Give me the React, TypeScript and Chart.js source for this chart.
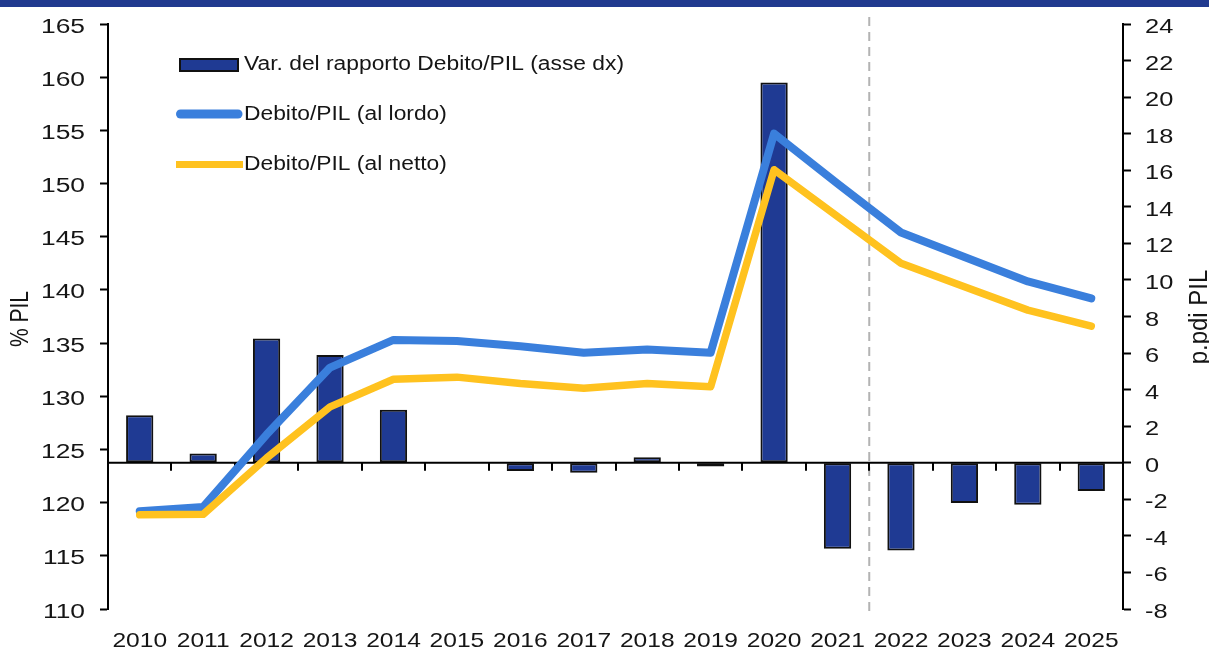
import React, { useEffect, useRef } from "react";
import { Chart, registerables } from "chart.js";

Chart.register(...registerables);

const years = ["2010", "2011", "2012", "2013", "2014", "2015", "2016", "2017", "2018", "2019", "2020", "2021", "2022", "2023", "2024", "2025"];
const varRapporto = [2.6, 0.5, 6.8, 5.9, 2.9, 0.0, -0.45, -0.55, 0.3, -0.2, 20.8, -4.7, -4.8, -2.2, -2.3, -1.55];
const debitoLordo = [119.2, 119.6, 126.4, 132.7, 135.3, 135.2, 134.7, 134.1, 134.4, 134.1, 154.7, 150.0, 145.4, 143.1, 140.8, 139.2];
const debitoNetto = [118.85, 118.9, 124.2, 129.0, 131.6, 131.8, 131.2, 130.75, 131.2, 130.9, 151.3, 146.9, 142.5, 140.3, 138.1, 136.6];
const leftTicks = [110, 115, 120, 125, 130, 135, 140, 145, 150, 155, 160, 165];
const rightTicks = [-8, -6, -4, -2, 0, 2, 4, 6, 8, 10, 12, 14, 16, 18, 20, 22, 24];
const legendLabels = ["Var. del rapporto Debito/PIL (asse dx)", "Debito/PIL (al lordo)", "Debito/PIL (al netto)"];
const leftTitle = "% PIL";
const rightTitle = "p.pdi PIL";
const forecastFrom = "2022";

const NAVY = "#1f3a93";
const BLUE = "#3a7fdc";
const YELLOW = "#ffc21f";
const TEXT = "#151515";
const FONT = "'Liberation Sans', Arial, sans-serif";

function stretchText(ctx: CanvasRenderingContext2D, text: string, x: number, y: number, size: number, sx: number, align: CanvasTextAlign, baseline: CanvasTextBaseline) {
  ctx.save();
  ctx.translate(x, y);
  ctx.scale(sx, 1);
  ctx.font = `${size}px ${FONT}`;
  ctx.fillStyle = TEXT;
  ctx.textAlign = align;
  ctx.textBaseline = baseline;
  ctx.fillText(text, 0, 0);
  ctx.restore();
}

function rotatedText(ctx: CanvasRenderingContext2D, text: string, cx: number, cy: number, size: number, sx: number, along: number) {
  ctx.save();
  ctx.translate(cx, cy);
  ctx.scale(sx, 1);
  ctx.rotate(-Math.PI / 2);
  ctx.scale(along, 1);
  ctx.font = `${size}px ${FONT}`;
  ctx.fillStyle = TEXT;
  ctx.textAlign = "center";
  ctx.textBaseline = "middle";
  ctx.fillText(text, 0, 0);
  ctx.restore();
}

const overlay = {
  id: "overlay",
  beforeDraw(chart: any) {
    const ctx = chart.ctx;
    ctx.save();
    ctx.fillStyle = "#ffffff";
    ctx.fillRect(0, 0, chart.width, chart.height);
    ctx.fillStyle = "#213a8f";
    ctx.fillRect(0, 0, chart.width, 7);
    ctx.restore();
  },
  beforeDatasetsDraw(chart: any) {
    const ctx = chart.ctx;
    const x = chart.scales.x;
    const idx = years.indexOf(forecastFrom);
    const px = (x.getPixelForValue(idx - 1) + x.getPixelForValue(idx)) / 2;
    ctx.save();
    ctx.strokeStyle = "#b3b3b3";
    ctx.lineWidth = 2;
    ctx.setLineDash([9, 6]);
    ctx.beginPath();
    ctx.moveTo(px, 17);
    ctx.lineTo(px, 614);
    ctx.stroke();
    ctx.restore();
  },
  afterDatasetDraw(chart: any, args: any) {
    if (args.meta.type !== "bar") return;
    const ctx = chart.ctx;
    const x = chart.scales.x;
    const y0 = chart.scales.y1.getPixelForValue(0);
    const area = chart.chartArea;
    ctx.save();
    ctx.strokeStyle = "#000";
    ctx.lineWidth = 2;
    ctx.beginPath();
    ctx.moveTo(area.left, y0);
    ctx.lineTo(area.right, y0);
    ctx.stroke();
    for (let i = 1; i < years.length; i++) {
      const bx = Math.round((x.getPixelForValue(i - 1) + x.getPixelForValue(i)) / 2);
      ctx.beginPath();
      ctx.moveTo(bx, y0);
      ctx.lineTo(bx, y0 + 8);
      ctx.stroke();
    }
    ctx.restore();
  },
  afterDraw(chart: any) {
    const ctx = chart.ctx;
    const { x, y, y1 } = chart.scales;
    y.ticks.forEach((t: any) => {
      stretchText(ctx, String(t.value), 85, y.getPixelForValue(t.value) + 8.5, 20, 1.32, "right", "alphabetic");
    });
    y1.ticks.forEach((t: any) => {
      stretchText(ctx, String(t.value), 1145, y1.getPixelForValue(t.value) + 9, 20, 1.27, "left", "alphabetic");
    });
    years.forEach((lab, i) => {
      stretchText(ctx, lab, x.getPixelForValue(i), 647, 21, 1.17, "center", "alphabetic");
    });
    rotatedText(ctx, leftTitle, 21, 319, 20, 1.3, 1.05);
    rotatedText(ctx, rightTitle, 1200, 317, 20, 1.3, 1.2);
    ctx.save();
    ctx.fillStyle = NAVY;
    ctx.fillRect(180, 59, 58, 12);
    ctx.strokeStyle = "#111";
    ctx.lineWidth = 2;
    ctx.strokeRect(180, 59, 58, 12);
    ctx.lineCap = "round";
    ctx.strokeStyle = BLUE;
    ctx.lineWidth = 9;
    ctx.beginPath();
    ctx.moveTo(180.5, 114);
    ctx.lineTo(238, 114);
    ctx.stroke();
    ctx.lineCap = "butt";
    ctx.strokeStyle = YELLOW;
    ctx.lineWidth = 7;
    ctx.beginPath();
    ctx.moveTo(176, 164.5);
    ctx.lineTo(243, 164.5);
    ctx.stroke();
    ctx.restore();
    legendLabels.forEach((lab, i) => {
      stretchText(ctx, lab, 244, 70 + i * 50, 19.5, 1.17, "left", "alphabetic");
    });
  },
};

export default function App() {
  const ref = useRef<HTMLCanvasElement | null>(null);
  useEffect(() => {
    document.body.style.margin = "0";
    const canvas = ref.current;
    if (!canvas) return;
    const chart = new Chart(canvas, {
      type: "bar",
      data: {
        labels: years,
        datasets: [
          {
            type: "bar",
            label: legendLabels[0],
            data: varRapporto,
            yAxisID: "y1",
            backgroundColor: NAVY,
            borderColor: "#111",
            borderWidth: 2,
            borderSkipped: false,
            barPercentage: 0.43,
            categoryPercentage: 1,
            order: 2,
          },
          {
            type: "line",
            label: legendLabels[1],
            data: debitoLordo,
            yAxisID: "y",
            borderColor: BLUE,
            backgroundColor: BLUE,
            borderWidth: 8,
            pointRadius: 0,
            tension: 0,
            borderCapStyle: "round",
            borderJoinStyle: "round",
            order: 1,
          },
          {
            type: "line",
            label: legendLabels[2],
            data: debitoNetto,
            yAxisID: "y",
            borderColor: YELLOW,
            backgroundColor: YELLOW,
            borderWidth: 7.5,
            pointRadius: 0,
            tension: 0,
            borderCapStyle: "round",
            borderJoinStyle: "round",
            order: 0,
          },
        ],
      } as any,
      options: {
        responsive: false,
        animation: false,
        layout: { padding: { top: 24, left: 0, right: 0, bottom: 0 } },
        plugins: { legend: { display: false }, tooltip: { enabled: false }, title: { display: false } },
        scales: {
          x: {
            type: "category",
            offset: true,
            grid: { display: false },
            border: { display: false },
            ticks: { display: false },
            afterFit: (s: any) => { s.height = 39; },
          },
          y: {
            type: "linear",
            position: "left",
            min: 110,
            max: 165,
            afterBuildTicks: (s: any) => { s.ticks = leftTicks.map((v) => ({ value: v })); },
            grid: { display: true, drawOnChartArea: false, drawTicks: true, tickLength: 8, tickColor: "#000", tickWidth: 2, color: "#000" },
            border: { display: true, color: "#000", width: 2 },
            ticks: { display: false },
            afterFit: (s: any) => { s.width = 108; },
          },
          y1: {
            type: "linear",
            position: "right",
            min: -8,
            max: 24,
            afterBuildTicks: (s: any) => { s.ticks = rightTicks.map((v) => ({ value: v })); },
            grid: { display: true, drawOnChartArea: false, drawTicks: true, tickLength: 8, tickColor: "#000", tickWidth: 2, color: "#000" },
            border: { display: true, color: "#000", width: 2 },
            ticks: { display: false },
            afterFit: (s: any) => { s.width = 86; },
          },
        },
      } as any,
      plugins: [overlay],
    });
    return () => chart.destroy();
  }, []);
  return (
    <div style={{ position: "absolute", left: 0, top: 0, width: 1209, height: 648, background: "#fff" }}>
      <canvas ref={ref} width={1209} height={648} style={{ display: "block" }} />
    </div>
  );
}
